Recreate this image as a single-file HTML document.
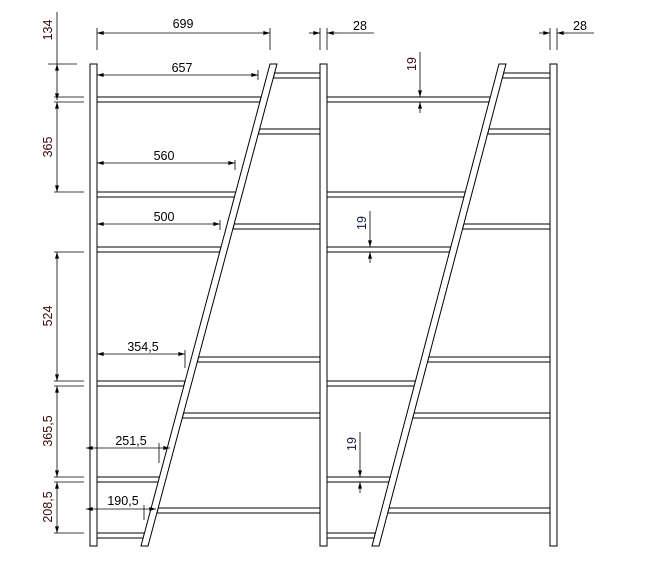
<!DOCTYPE html>
<html><head><meta charset="utf-8"><style>
html,body{margin:0;padding:0;background:#fff;}
svg{display:block;}
text{font-family:"Liberation Sans",sans-serif;font-size:12.5px;fill:#000;}
.r{fill:#3a0a0a;}
.b{fill:#101a40;}
</style></head><body>
<svg width="647" height="585" viewBox="0 0 647 585" xmlns="http://www.w3.org/2000/svg">
<defs>
<marker id="a" viewBox="0 0 10 6" refX="10" refY="3" markerWidth="10" markerHeight="4" orient="auto-start-reverse" markerUnits="userSpaceOnUse"><path d="M0,0L10,3L0,6z" fill="#000"/></marker>
</defs>
<g fill="#fff" stroke="#000" stroke-width="1">
<polygon points="97,97 261,97 259.7,102 97,102"/>
<polygon points="97,192 236,192 234.7,197 97,197"/>
<polygon points="97,247 221,247 219.7,252 97,252"/>
<polygon points="97,381 185,381 183.7,386 97,386"/>
<polygon points="97,477 159.5,477 158.2,482 97,482"/>
<polygon points="97,533 144.5,533 143.2,538 97,538"/>
<polygon points="274.6,73 320,73 320,78 273.3,78"/>
<polygon points="259.6,129 320,129 320,134 258.3,134"/>
<polygon points="234.2,224 320,224 320,229 232.9,229"/>
<polygon points="198.6,357 320,357 320,362 197.3,362"/>
<polygon points="183.6,413 320,413 320,418 182.3,418"/>
<polygon points="158.2,508 320,508 320,513 156.9,513"/>
<polygon points="327,97 490.3,97 489,102 327,102"/>
<polygon points="327,192 465.3,192 464,197 327,197"/>
<polygon points="327,247 450.8,247 449.5,252 327,252"/>
<polygon points="327,381 415.5,381 414.2,386 327,386"/>
<polygon points="327,477 390.2,477 388.9,482 327,482"/>
<polygon points="327,533 375.4,533 374.1,538 327,538"/>
<polygon points="503.6,73 550,73 550,78 502.3,78"/>
<polygon points="488.9,129 550,129 550,134 487.6,134"/>
<polygon points="463.8,224 550,224 550,229 462.5,229"/>
<polygon points="428.8,357 550,357 550,362 427.5,362"/>
<polygon points="414,413 550,413 550,418 412.7,418"/>
<polygon points="389,508 550,508 550,513 387.7,513"/>
<rect x="90" y="64" width="7" height="482"/>
<rect x="320" y="64" width="7" height="482"/>
<rect x="550" y="64" width="7" height="482"/>
<polygon points="270,64 277,64 148,546 141,546"/>
<polygon points="499,64 506,64 379,546 372,546"/>
</g>
<g stroke="#000" stroke-width="0.8" fill="none">
<line x1="97" y1="28" x2="97" y2="50"/><line x1="270" y1="28" x2="270" y2="50"/>
<line x1="320" y1="28" x2="320" y2="50"/><line x1="327" y1="28" x2="327" y2="50"/>
<line x1="550" y1="28" x2="550" y2="50"/><line x1="557" y1="28" x2="557" y2="50"/>
<line x1="258" y1="70" x2="258" y2="80"/>
<line x1="235" y1="160" x2="235" y2="170"/>
<line x1="220" y1="220" x2="220" y2="230"/>
<line x1="185" y1="350" x2="185" y2="368"/>
<line x1="159" y1="443" x2="159" y2="463"/>
<line x1="144" y1="505" x2="144" y2="520"/>
<line x1="97" y1="33" x2="270" y2="33" marker-start="url(#a)" marker-end="url(#a)"/>
<line x1="97" y1="75" x2="258" y2="75" marker-start="url(#a)" marker-end="url(#a)"/>
<line x1="97" y1="163" x2="235" y2="163" marker-start="url(#a)" marker-end="url(#a)"/>
<line x1="97" y1="224" x2="220" y2="224" marker-start="url(#a)" marker-end="url(#a)"/>
<line x1="97" y1="354" x2="185" y2="354" marker-start="url(#a)" marker-end="url(#a)"/>
<line x1="86" y1="448" x2="170" y2="448" marker-start="url(#a)" marker-end="url(#a)"/>
<line x1="86" y1="509" x2="156" y2="509" marker-start="url(#a)" marker-end="url(#a)"/>
<line x1="309" y1="33" x2="320" y2="33" marker-end="url(#a)"/>
<line x1="338" y1="33" x2="327" y2="33" marker-end="url(#a)"/>
<line x1="338" y1="33" x2="374" y2="33"/>
<line x1="539" y1="33" x2="550" y2="33" marker-end="url(#a)"/>
<line x1="568" y1="33" x2="557" y2="33" marker-end="url(#a)"/>
<line x1="568" y1="33" x2="594" y2="33"/>
<line x1="57" y1="12" x2="57" y2="64"/>
<line x1="48" y1="64" x2="77" y2="64"/>
<line x1="57" y1="64" x2="57" y2="100" marker-start="url(#a)" marker-end="url(#a)"/>
<line x1="54" y1="97" x2="84" y2="97"/><line x1="54" y1="102" x2="84" y2="102"/>
<line x1="57" y1="102" x2="57" y2="192" marker-start="url(#a)" marker-end="url(#a)"/>
<line x1="54" y1="192" x2="84" y2="192"/>
<line x1="57" y1="252" x2="57" y2="381" marker-start="url(#a)" marker-end="url(#a)"/>
<line x1="54" y1="252" x2="84" y2="252"/>
<line x1="54" y1="381" x2="84" y2="381"/><line x1="54" y1="386" x2="84" y2="386"/>
<line x1="57" y1="386" x2="57" y2="477" marker-start="url(#a)" marker-end="url(#a)"/>
<line x1="54" y1="477" x2="84" y2="477"/><line x1="54" y1="482" x2="84" y2="482"/>
<line x1="57" y1="482" x2="57" y2="533" marker-start="url(#a)" marker-end="url(#a)"/>
<line x1="54" y1="533" x2="84" y2="533"/>
<line x1="420" y1="52" x2="420" y2="97" marker-end="url(#a)"/>
<line x1="420" y1="113" x2="420" y2="102" marker-end="url(#a)"/>
<line x1="370" y1="211" x2="370" y2="247" marker-end="url(#a)"/>
<line x1="370" y1="263" x2="370" y2="252" marker-end="url(#a)"/>
<line x1="360" y1="432" x2="360" y2="477" marker-end="url(#a)"/>
<line x1="360" y1="493" x2="360" y2="482" marker-end="url(#a)"/>
</g>
<text x="183" y="28" text-anchor="middle">699</text>
<text x="182" y="72" text-anchor="middle">657</text>
<text x="164" y="160" text-anchor="middle">560</text>
<text x="164" y="221" text-anchor="middle">500</text>
<text x="143" y="351" text-anchor="middle">354,5</text>
<text x="131" y="445" text-anchor="middle">251,5</text>
<text x="123" y="505" text-anchor="middle">190,5</text>
<text x="360" y="30" text-anchor="middle">28</text>
<text x="580" y="30" text-anchor="middle">28</text>
<text class="r" transform="translate(52,30) rotate(-90)" text-anchor="middle">134</text>
<text class="r" transform="translate(52,147) rotate(-90)" text-anchor="middle">365</text>
<text class="r" transform="translate(52,316) rotate(-90)" text-anchor="middle">524</text>
<text class="r" transform="translate(52,431) rotate(-90)" text-anchor="middle">365,5</text>
<text class="r" transform="translate(52,507) rotate(-90)" text-anchor="middle">208,5</text>
<text class="r" transform="translate(416,64) rotate(-90)" text-anchor="middle">19</text>
<text class="b" transform="translate(366,223) rotate(-90)" text-anchor="middle">19</text>
<text class="b" transform="translate(356,444) rotate(-90)" text-anchor="middle">19</text>
</svg>
</body></html>
